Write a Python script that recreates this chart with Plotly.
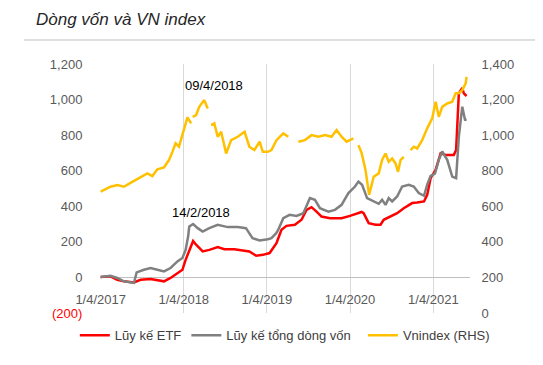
import plotly.graph_objects as go

# ---------------- data ----------------
etf_dates = ["2017-01-04","2017-02-16","2017-03-18","2017-04-16","2017-05-30","2017-06-28","2017-08-11",
             "2017-09-10","2017-10-09","2017-11-07","2017-12-07","2017-12-29","2018-01-12","2018-01-23",
             "2018-02-14","2018-02-27","2018-03-28","2018-04-26","2018-06-02","2018-07-01","2018-08-14",
             "2018-09-20","2018-10-19","2018-11-18","2018-12-17","2019-01-16","2019-02-07","2019-02-15",
             "2019-03-09","2019-03-31","2019-05-07","2019-06-05","2019-06-27","2019-07-19","2019-08-10",
             "2019-09-01","2019-10-08","2019-11-28","2020-01-04","2020-02-02","2020-02-24","2020-03-04",
             "2020-03-26","2020-04-25","2020-05-17","2020-05-31","2020-06-30","2020-07-29","2020-08-27",
             "2020-10-03","2020-10-25","2020-11-24","2020-12-08","2020-12-23","2021-01-14","2021-02-05",
             "2021-02-27","2021-04-04","2021-04-14","2021-04-26","2021-05-11","2021-05-18","2021-05-30"]
etf_values = [2,6,-13,-22,-28,-13,-9,
              -17,-22,-3,25,43,99,137,
              205,184,146,155,171,159,159,
              152,146,122,127,137,174,193,
              268,290,296,324,380,395,370,
              342,333,333,346,361,368,361,
              305,296,296,324,342,361,389,
              418,421,427,464,558,605,698,
              689,689,717,1035,1065,1035,1020]

total_dates = ["2017-01-04","2017-02-16","2017-03-18","2017-04-16","2017-05-30","2017-06-11","2017-07-13",
               "2017-08-11","2017-09-10","2017-10-09","2017-11-07","2017-12-07","2017-12-29","2018-01-12",
               "2018-01-23","2018-01-28","2018-02-14","2018-03-06","2018-03-28","2018-04-26","2018-06-02",
               "2018-07-16","2018-08-29","2018-10-04","2018-11-02","2018-12-03","2019-01-08","2019-01-24",
               "2019-02-14","2019-02-23","2019-03-17","2019-04-14","2019-05-14","2019-06-13","2019-07-12",
               "2019-08-03","2019-08-25","2019-10-01","2019-10-30","2019-11-28","2019-12-28","2020-01-26",
               "2020-02-10","2020-02-26","2020-03-19","2020-04-17","2020-05-09","2020-05-24","2020-06-08",
               "2020-06-22","2020-07-07","2020-07-29","2020-08-20","2020-09-18","2020-10-10","2020-11-01",
               "2020-11-24","2020-12-08","2020-12-23","2021-01-11","2021-01-28","2021-02-12","2021-03-06",
               "2021-03-28","2021-04-14","2021-04-26","2021-05-11","2021-05-23","2021-05-30"]
total_values = [2,9,-3,-22,-31,28,43,
                53,43,34,53,90,109,155,
                230,286,300,277,258,277,296,
                283,283,277,221,208,215,221,
                249,268,333,352,346,361,446,
                436,389,370,380,408,474,511,
                539,521,446,427,414,436,408,
                446,427,455,511,521,511,474,
                459,521,571,583,661,708,661,
                567,558,792,960,886,886]

vn_dates = ["2017-01-04","2017-02-16","2017-03-18","2017-04-16","2017-05-15","2017-06-28","2017-07-28",
            "2017-08-19","2017-09-10","2017-10-09","2017-10-31","2017-11-15","2017-11-29","2017-12-14",
            "2018-01-06","2018-01-20","2018-02-05","2018-02-08","2018-02-12","2018-02-27","2018-03-13",
            "2018-04-04","2018-04-19","2018-04-26","2018-05-04","2018-05-18","2018-06-02","2018-06-17",
            "2018-07-09","2018-07-31","2018-08-29","2018-09-28","2018-10-19","2018-11-10","2018-12-03",
            "2018-12-17","2019-01-08","2019-01-24","2019-02-15","2019-03-17","2019-04-08","2019-04-28",
            "2019-05-22","2019-06-20","2019-07-19","2019-08-18","2019-09-16","2019-10-15","2019-11-06",
            "2019-11-28","2019-12-20","2020-01-19","2020-01-28","2020-02-10","2020-02-24","2020-03-12",
            "2020-03-28","2020-04-17","2020-05-09","2020-05-24","2020-06-08","2020-06-22","2020-07-07",
            "2020-07-22","2020-08-02","2020-08-13","2020-08-27","2020-09-10","2020-09-26","2020-10-10",
            "2020-10-25","2020-11-16","2020-12-08","2020-12-30","2021-01-14","2021-01-28","2021-02-12",
            "2021-03-06","2021-03-28","2021-04-12","2021-04-26","2021-05-11","2021-05-26","2021-05-30"]
vn_values = [682,710,719,710,732,766,785,
             770,808,819,860,906,954,935,
             1047,1100,1066,None,1103,1113,1159,
             1197,1150,None,1057,1066,991,1019,
             897,972,991,1019,935,916,963,
             906,906,916,972,1010,991,None,
             963,972,1000,991,1000,991,1029,
             991,963,982,None,944,900,804,
             665,766,785,860,897,850,869,
             841,794,860,878,None,916,935,
             925,972,1038,1094,1188,1103,1159,
             1178,1188,1235,1235,1253,1291,1328]

left_ticks = [-200, 0, 200, 400, 600, 800, 1000, 1200]
left_ticktext = ['<span style="color:#ff0000">(200)</span>', "0", "200", "400", "600", "800", "1,000", "1,200"]
right_ticks = [0, 200, 400, 600, 800, 1000, 1200, 1400]
right_ticktext = ["0", "200", "400", "600", "800", "1,000", "1,200", "1,400"]
x_ticks = ["2017-01-04", "2018-01-04", "2019-01-04", "2020-01-04", "2021-01-04"]
x_ticktext = ["1/4/2017", "1/4/2018", "1/4/2019", "1/4/2020", "1/4/2021"]
series_names = ["Lũy kế ETF", "Lũy kế tổng dòng vốn\u00a0\u00a0", "Vnindex (RHS)"]

TXT = "#595959"
FONT = "Liberation Sans, Arial, sans-serif"

fig = go.Figure()
fig.add_trace(go.Scatter(x=etf_dates, y=etf_values, name=series_names[0], mode="lines",
                         line=dict(color="#ff0000", width=2.5)))
fig.add_trace(go.Scatter(x=total_dates, y=total_values, name=series_names[1], mode="lines",
                         line=dict(color="#808080", width=2.5)))
fig.add_trace(go.Scatter(x=vn_dates, y=vn_values, name=series_names[2], mode="lines",
                         line=dict(color="#ffc000", width=2.5), yaxis="y2", connectgaps=False))

fig.update_layout(
    width=543, height=365,
    margin=dict(l=92, r=81, t=56, b=60),
    paper_bgcolor="white", plot_bgcolor="white",
    font=dict(family=FONT, size=13, color=TXT),
    showlegend=True,
    legend=dict(orientation="h", x=-0.068, xanchor="left", y=-0.09, yanchor="middle",
                font=dict(size=13, color="#404040"), bgcolor="rgba(0,0,0,0)",
                itemwidth=30, tracegroupgap=0),
    xaxis=dict(type="date", range=["2017-01-01", "2021-06-14"],
               tickvals=x_ticks, ticktext=x_ticktext, showgrid=True, gridcolor="#d9d9d9", gridwidth=1,
               showline=False, zeroline=False, anchor="free", position=0.091, ticks="",
               tickfont=dict(size=13, color=TXT)),
    yaxis=dict(range=[-200, 1200], tickvals=left_ticks, ticktext=left_ticktext, showgrid=False,
               zeroline=True, zerolinecolor="#bfbfbf", zerolinewidth=1, showline=False,
               ticks="outside", ticklen=14, tickcolor="rgba(0,0,0,0)", tickfont=dict(size=13, color=TXT)),
    yaxis2=dict(range=[0, 1400], tickvals=right_ticks, ticktext=right_ticktext, overlaying="y",
                side="right", showgrid=False, zeroline=False, showline=False,
                ticks="outside", ticklen=8, tickcolor="rgba(0,0,0,0)", tickfont=dict(size=13, color=TXT)),
    annotations=[
        dict(text="<i>Dòng vốn và VN index</i>", xref="paper", yref="paper", x=-0.179, y=1.18,
             xanchor="left", yanchor="middle", showarrow=False,
             font=dict(family=FONT, size=17, color="#262626")),
        dict(text="09/4/2018", x="2018-05-18", y=1281, xref="x", yref="y2", showarrow=False,
             font=dict(family=FONT, size=13, color="#000000")),
        dict(text="14/2/2018", x="2018-03-21", y=363, xref="x", yref="y", showarrow=False,
             font=dict(family=FONT, size=13, color="#000000")),
    ],
    shapes=[dict(type="line", xref="paper", yref="paper", x0=-0.206, x1=1.25, y0=1.0964, y1=1.0964,
                 line=dict(color="#bfbfbf", width=1))],
)

fig.write_html("out.html")
